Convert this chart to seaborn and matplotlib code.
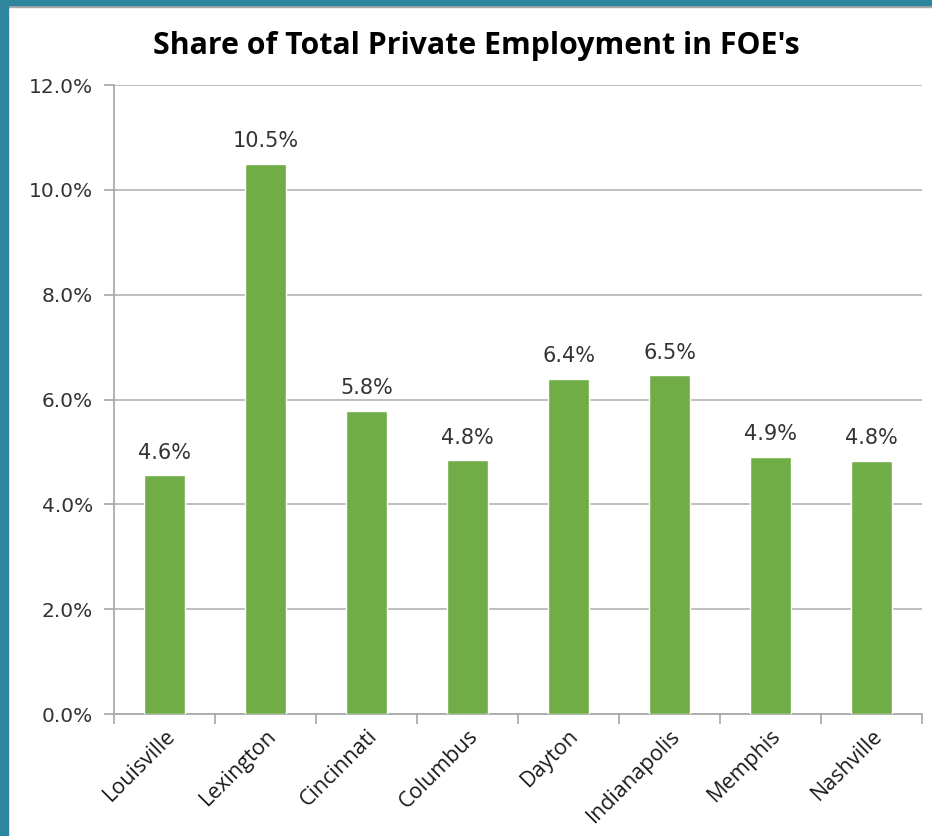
import matplotlib
matplotlib.use("Agg")
import matplotlib.pyplot as plt
import matplotlib.patches as mpatches
import seaborn as sns
import pandas as pd
from matplotlib.ticker import FuncFormatter, FixedLocator

cities = ["Louisville", "Lexington", "Cincinnati", "Columbus", "Dayton",
          "Indianapolis", "Memphis", "Nashville"]
shares = [4.56, 10.50, 5.79, 4.84, 6.40, 6.46, 4.91, 4.83]
y_ticks = [0, 2, 4, 6, 8, 10, 12]
title = "Share of Total Private Employment in FOE's"

df = pd.DataFrame({"city": cities, "share": shares})

sns.set_style("white")
plt.rcParams["font.family"] = ["DejaVu Sans"]

fig = plt.figure(figsize=(9.32, 8.36), dpi=100)
ax = fig.add_axes([0.1223, 0.1459, 0.8670, 0.7524])

# teal frame (left and top)
fig.patches.append(mpatches.Rectangle((0, 0), 8 / 932, 1, transform=fig.transFigure,
                                      color="#2e869e", zorder=10))
fig.patches.append(mpatches.Rectangle((0, 1 - 5 / 836), 1, 5 / 836, transform=fig.transFigure,
                                      color="#2e869e", zorder=10))
fig.patches.append(mpatches.Rectangle((0, 1 - 7 / 836), 1, 2 / 836, transform=fig.transFigure,
                                      color="#a9a9a9", zorder=9))

sns.barplot(data=df, x="city", y="share", color="#70ad47", width=0.4,
            saturation=1, ax=ax, zorder=3)

ax.set_ylim(0, 12)
ax.set_xlim(-0.5, len(cities) - 0.5)
ax.yaxis.set_major_locator(FixedLocator(y_ticks))
ax.yaxis.set_major_formatter(FuncFormatter(lambda v, p: f"{v:.1f}%"))
ax.grid(axis="y", color="#b3b3b3", linewidth=1.2, zorder=0)
ax.set_axisbelow(True)

for s in ["top", "right"]:
    ax.spines[s].set_visible(False)
for s in ["left", "bottom"]:
    ax.spines[s].set_color("#a6a6a6")
    ax.spines[s].set_linewidth(1.2)

ax.tick_params(axis="y", which="major", length=7, width=1.2, color="#a6a6a6",
               labelsize=14.5, labelcolor="#333333", pad=8, left=True)
ax.set_xticks(range(len(cities)))
ax.set_xticklabels(cities, rotation=45, ha="right", rotation_mode="anchor",
                   fontsize=15.5, color="#1a1a1a", family="Open Sans")
ax.tick_params(axis="x", which="major", length=0, pad=8)
ax.set_xticks([i - 0.5 for i in range(len(cities) + 1)], minor=True)
ax.tick_params(axis="x", which="minor", length=7, width=1.2, color="#a6a6a6", bottom=True)
ax.set_xlabel("")
ax.set_ylabel("")

for i, v in enumerate(shares):
    ax.annotate(f"{v:.1f}%", (i, v), xytext=(0, 9), textcoords="offset points",
                ha="center", va="bottom", fontsize=15, color="#333333")

fig.text(0.511, 0.945, title, ha="center", va="center", fontsize=21.8,
         fontweight="bold", family="Open Sans", color="#000000")

fig.savefig("out.png", dpi=100, facecolor="white")
